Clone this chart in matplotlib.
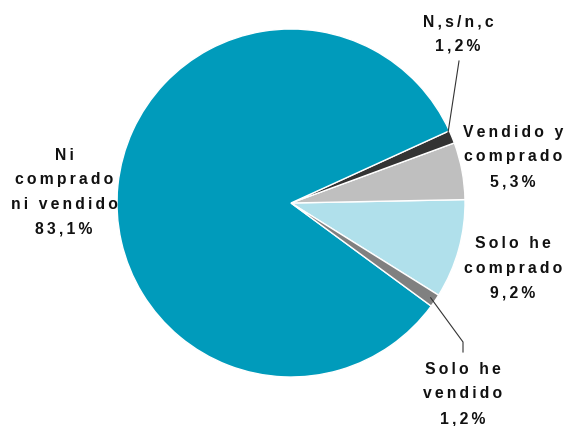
import numpy as np
import matplotlib
matplotlib.use('Agg')
import matplotlib.pyplot as plt

plt.rcParams['font.family'] = ['Liberation Sans', 'DejaVu Sans']

# counterclockwise from the lower edge of "Solo he comprado"
labels = ['Solo he\ncomprado', 'Vendido y\ncomprado', 'N,s/n,c',
          'Ni\ncomprado\nni vendido', 'Solo he\nvendido']
values = [9.2, 5.3, 1.2, 83.1, 1.2]
colors = ['#B0E0EB', '#BFBFBF', '#333333', '#009BBB', '#808080']

# label centres in pixels (x, y from top)
label_pos = [(513, 268), (513, 157), (458, 34), (64, 192), (463, 394)]

W, H = 564, 427
CX, CY, R = 291, 204, 174
THIN = '\u2009'


def spaced(s):
    # mimic the wide letter spacing of the original
    return '\n'.join((THIN + ' ' + THIN).join(THIN.join(w) for w in line.split(' '))
                     for line in s.split('\n'))


def to_data(px, py):
    return (px - CX) / R, (CY - py) / R


fig = plt.figure(figsize=(W / 100, H / 100), dpi=100)
ax = fig.add_axes([0, 0, 1, 1])
wedges, _ = ax.pie(values, colors=colors, startangle=-32, counterclock=True,
                   wedgeprops=dict(edgecolor='white', linewidth=1))
ax.set_xlim(-CX / R, (W - CX) / R)
ax.set_ylim(-(H - CY) / R, CY / R)
ax.set_aspect('auto')
ax.axis('off')

for lab, v, (px, py) in zip(labels, values, label_pos):
    x, y = to_data(px, py)
    txt = spaced(lab) + '\n' + spaced(f'{v:.1f}'.replace('.', ',') + '%')
    ax.text(x, y, txt, ha='center', va='center', fontsize=11.3,
            fontweight='bold', linespacing=1.8, color='#111111')

# leader lines for the small slices
for i, pts in [(2, [(459, 62)]), (4, [(463, 343), (463, 353)])]:
    w = wedges[i]
    a = np.deg2rad((w.theta1 + w.theta2) / 2)
    xs = [0.97 * np.cos(a)] + [to_data(*p)[0] for p in pts]
    ys = [0.97 * np.sin(a)] + [to_data(*p)[1] for p in pts]
    ax.plot(xs, ys, color='#333333', linewidth=0.8)

fig.savefig('out.png', dpi=100)
